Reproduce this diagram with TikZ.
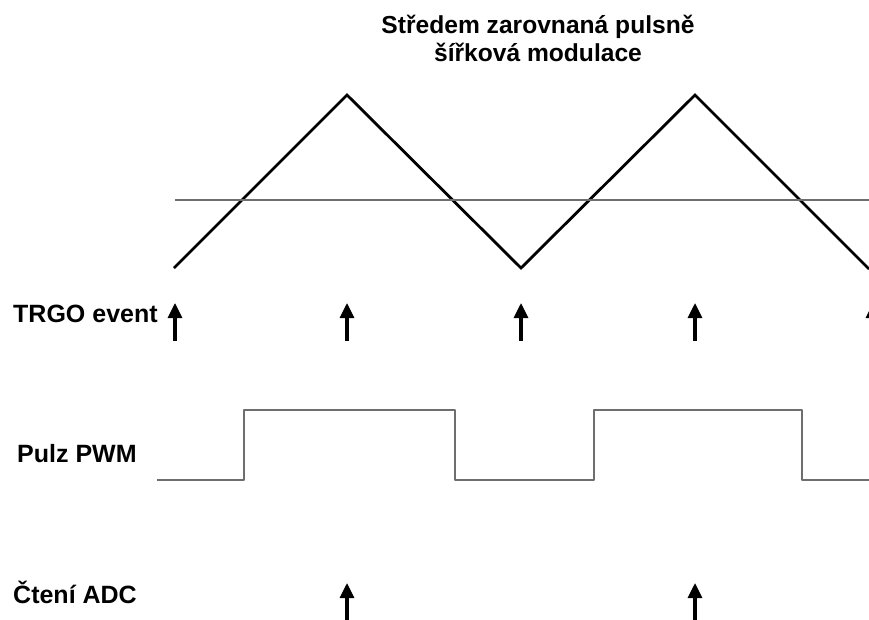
\documentclass[tikz,border=0pt]{standalone}
\usepackage{fontspec}
\setmainfont{Liberation Sans}
\usetikzlibrary{arrows.meta}
\definecolor{siggray}{RGB}{110,110,110}
\tikzset{
  lbl/.style={font=\bfseries\fontsize{25}{28}\selectfont, inner sep=0pt, anchor=base west},
  ttl/.style={font=\bfseries\fontsize{24.6}{28}\selectfont, inner sep=0pt, align=center, anchor=north},
  carrier/.style={line width=2.8pt, black, line join=miter},
  levelline/.style={line width=2.7pt, siggray},
  pwmline/.style={line width=2.7pt, siggray, line join=round},
  evarrow/.style={line width=3.2pt, black, -{Triangle[width=14pt,length=15pt]}}
}
\begin{document}
\begin{tikzpicture}[x=1pt,y=-1pt]
\useasboundingbox (0,0) rectangle (869,619);
\clip (0,0) rectangle (869,619);
% title
\node[ttl] (title) at (538,15) {Středem zarovnaná pulsně\\šířková modulace};
% labels
\node[lbl] (trgo) at (13,322) {TRGO event};
\node[lbl] (pwm) at (17,462) {Pulz PWM};
\node[lbl] (adc) at (13,603) {Čtení ADC};
% triangle carrier
\coordinate (t0) at (174,268);
\coordinate (t1) at (347,95);
\coordinate (t2) at (521,268);
\coordinate (t3) at (695,95);
\coordinate (t4) at (869,269);
\draw[carrier] (t0) -- (t1) -- (t2) -- (t3) -- (t4);
% comparison level
\coordinate (l0) at (175,200);
\coordinate (l1) at (870,200);
\draw[levelline] (l0) -- (l1);
% TRGO event arrows
\foreach \i/\x in {1/175,2/347,3/521,4/695,5/873}{
  \coordinate (eb\i) at (\x,341);
  \coordinate (et\i) at (\x,303);
  \draw[evarrow] (eb\i) -- (et\i);
}
% PWM pulse
\coordinate (p0) at (157,480);
\coordinate (p1) at (244,480);
\coordinate (p2) at (244,410);
\coordinate (p3) at (455,410);
\coordinate (p4) at (455,480);
\coordinate (p5) at (594,480);
\coordinate (p6) at (594,410);
\coordinate (p7) at (802,410);
\coordinate (p8) at (802,480);
\coordinate (p9) at (870,480);
\draw[pwmline] (p0) -- (p1) -- (p2) -- (p3) -- (p4) -- (p5) -- (p6) -- (p7) -- (p8) -- (p9);
% ADC read arrows
\foreach \i/\x in {1/347,2/695}{
  \coordinate (ab\i) at (\x,622);
  \coordinate (at\i) at (\x,583);
  \draw[evarrow] (ab\i) -- (at\i);
}
\end{tikzpicture}
\end{document}
